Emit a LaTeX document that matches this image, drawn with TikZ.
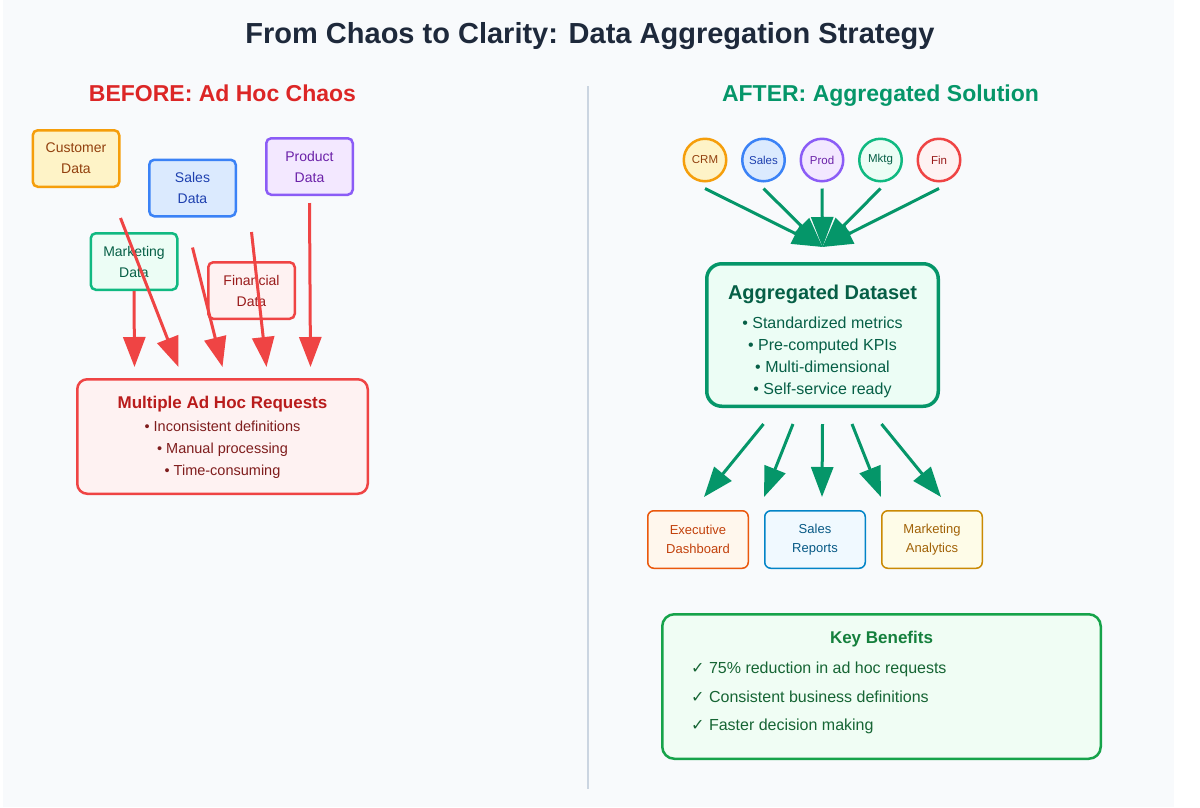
\documentclass[tikz,border=0pt]{standalone}
\usepackage{fontspec}
\setmainfont{Liberation Sans}
\newfontfamily\symfont{DejaVu Sans}
\usetikzlibrary{arrows.meta}
\definecolor{bgpanel}{HTML}{F8FAFC}
\definecolor{divline}{HTML}{CBD5E1}
\definecolor{titletext}{HTML}{1E293B}
\definecolor{chaosred}{HTML}{DC2626}
\definecolor{claritygreen}{HTML}{059669}
\definecolor{amberfill}{HTML}{FEF3C7}\definecolor{amberline}{HTML}{F59E0B}\definecolor{ambertext}{HTML}{92400E}
\definecolor{bluefill}{HTML}{DBEAFE}\definecolor{blueline}{HTML}{3B82F6}\definecolor{bluetext}{HTML}{1E40AF}
\definecolor{purplefill}{HTML}{F3E8FF}\definecolor{purpleline}{HTML}{8B5CF6}\definecolor{purpletext}{HTML}{6B21A8}
\definecolor{greenfill}{HTML}{ECFDF5}\definecolor{greenline}{HTML}{10B981}\definecolor{greentext}{HTML}{065F46}
\definecolor{redfill}{HTML}{FEF2F2}\definecolor{redline}{HTML}{EF4444}\definecolor{redtext}{HTML}{991B1B}
\definecolor{orangefill}{HTML}{FFF7ED}\definecolor{orangeline}{HTML}{EA580C}\definecolor{orangetext}{HTML}{C2410C}
\definecolor{skyfill}{HTML}{F0F9FF}\definecolor{skyline}{HTML}{0284C7}\definecolor{skytext}{HTML}{075985}
\definecolor{yellowfill}{HTML}{FEFCE8}\definecolor{yellowline}{HTML}{CA8A04}\definecolor{yellowtext}{HTML}{A16207}
\definecolor{benefitfill}{HTML}{F0FDF4}\definecolor{benefitline}{HTML}{16A34A}
\definecolor{benefittitle}{HTML}{15803D}\definecolor{benefittext}{HTML}{166534}
\definecolor{reqtitle}{HTML}{B91C1C}\definecolor{reqtext}{HTML}{7F1D1D}
\newcommand{\fsz}[2]{\fontsize{#1}{#2}\selectfont}

\begin{document}
\begin{tikzpicture}[x=1pt,y=-1pt,
  srcbox/.style={draw,rounded corners=5pt,line width=2.5pt,minimum width=86.5pt,minimum height=56.5pt,inner sep=0pt,align=center,font=\fsz{14}{21}},
  srccirc/.style={circle,draw,line width=2.5pt,minimum size=42.5pt,inner sep=0pt,font=\fsz{11.5}{13}},
  outbox/.style={draw,rounded corners=6pt,line width=1.5pt,minimum width=100.5pt,minimum height=57.5pt,inner sep=0pt,align=center,font=\fsz{13}{19.5}},
  chaosarrow/.style={redline,line width=3pt,-{Triangle[length=30pt,width=22pt]}},
  cleanarrow/.style={claritygreen,line width=3pt,-{Triangle[length=30pt,width=22pt]}}]
\useasboundingbox (0,0) rectangle (1200,807);
\fill[white] (0,0) rectangle (1200,807);
\fill[bgpanel] (3,0) rectangle (1174,807);
\draw[divline,line width=2.5pt] (588,86) -- (588,789);

\node[anchor=base,font=\bfseries\fsz{29}{34},text=titletext] (title) at (590,43) {From Chaos to Clarity: Data Aggregation Strategy};
\node[anchor=base,font=\bfseries\fsz{23}{27},text=chaosred] (before) at (222.5,101) {BEFORE: Ad Hoc Chaos};
\node[anchor=base,font=\bfseries\fsz{23}{27},text=claritygreen] (after) at (880.5,101) {AFTER: Aggregated Solution};

% before
\foreach \name/\x/\y/\c/\txt in {custdata/76/158.5/amber/Customer, salesdata/192.5/188/blue/Sales,
    proddata/309.5/166.5/purple/Product, mktgdata/134/261.5/green/Marketing, findata/251.5/290.5/red/Financial}{
  \node[srcbox,fill=\c fill,draw=\c line,text=\c text] (\name) at (\x,\y) {\txt\\Data};
}
\node[draw=redline,fill=redfill,line width=2.5pt,rounded corners=10pt,minimum width=290.5pt,minimum height=114.5pt] (req) at (222.5,436.5) {};
\node[anchor=base,font=\bfseries\fsz{17}{20},text=reqtitle] (reqhead) at (222.5,408) {Multiple Ad Hoc Requests};
\foreach \i/\y/\txt in {1/431/Inconsistent definitions, 2/453/Manual processing, 3/475/Time-consuming}
  \node[anchor=base,font=\fsz{14.5}{17},text=reqtext] (reqitem\i) at (222.5,\y) {• \txt};

\draw[chaosarrow] (mktgdata.south) -- ([xshift=-88pt,yshift=11pt]req.north);
\draw[chaosarrow] ([yshift=-30pt]custdata.south east) -- ([xshift=-44pt,yshift=11pt]req.north);
\draw[chaosarrow] ([yshift=-30pt]salesdata.south) -- ([yshift=11pt]req.north);
\draw[chaosarrow] ([yshift=29pt]findata.north) -- ([xshift=44pt,yshift=11pt]req.north);
\draw[chaosarrow] ([yshift=-7pt]proddata.south) -- ([xshift=88pt,yshift=11pt]req.north);

% after
\foreach \name/\x/\c/\txt in {crm/705/amber/CRM, salescirc/763.5/blue/Sales, prodcirc/822/purple/Prod,
    mktgcirc/880.5/green/Mktg, fincirc/939/red/Fin}
  \node[srccirc,fill=\c fill,draw=\c line,text=\c text] (\name) at (\x,160) {\txt};

\node[draw=claritygreen,fill=greenfill,line width=3.5pt,rounded corners=15pt,minimum width=231.5pt,minimum height=142.5pt] (agg) at (822.5,335) {};
\node[anchor=base,font=\bfseries\fsz{20}{24},text=greentext] (agghead) at (822.5,299) {Aggregated Dataset};
\foreach \i/\y/\txt in {1/328/Standardized metrics, 2/350/Pre-computed KPIs, 3/372/Multi-dimensional, 4/394/Self-service ready}
  \node[anchor=base,font=\fsz{16}{19},text=greentext] (aggitem\i) at (822.5,\y) {• \txt};

\foreach \name in {crm,salescirc,prodcirc,mktgcirc,fincirc}
  \draw[cleanarrow] ([yshift=-6pt]\name.south) -- ([yshift=15pt]agg.north);

\node[outbox,fill=orangefill,draw=orangeline,text=orangetext] (exec) at (698,539.5) {Executive\\Dashboard};
\node[outbox,fill=skyfill,draw=skyline,text=skytext] (reports) at (815,539.5) {Sales\\Reports};
\node[outbox,fill=yellowfill,draw=yellowline,text=yellowtext] (analytics) at (932,539.5) {Marketing\\Analytics};

\draw[cleanarrow] ([xshift=-59pt,yshift=-16pt]agg.south) -- ([xshift=6pt,yshift=13pt]exec.north);
\draw[cleanarrow] ([xshift=-29.5pt,yshift=-16pt]agg.south) -- ([yshift=13pt]reports.north west);
\draw[cleanarrow] ([yshift=-16pt]agg.south) -- ([xshift=7pt,yshift=13pt]reports.north);
\draw[cleanarrow] ([xshift=29.5pt,yshift=-16pt]agg.south) -- ([yshift=13pt]analytics.north west);
\draw[cleanarrow] ([xshift=59pt,yshift=-16pt]agg.south) -- ([xshift=9pt,yshift=13pt]analytics.north);

\node[draw=benefitline,fill=benefitfill,line width=2.5pt,rounded corners=12pt,minimum width=438.5pt,minimum height=144.5pt] (benefits) at (881.5,686.5) {};
\node[anchor=base,font=\bfseries\fsz{17}{20},text=benefittitle] (benhead) at (881.5,643) {Key Benefits};
\foreach \i/\y/\txt in {1/673/75\% reduction in ad hoc requests, 2/702/Consistent business definitions, 3/730/Faster decision making}
  \node[anchor=base west,inner sep=0pt,font=\fsz{16}{19},text=benefittext] (benitem\i) at (691,\y) {{\symfont\bfseries ✓} \txt};
\end{tikzpicture}
\end{document}
